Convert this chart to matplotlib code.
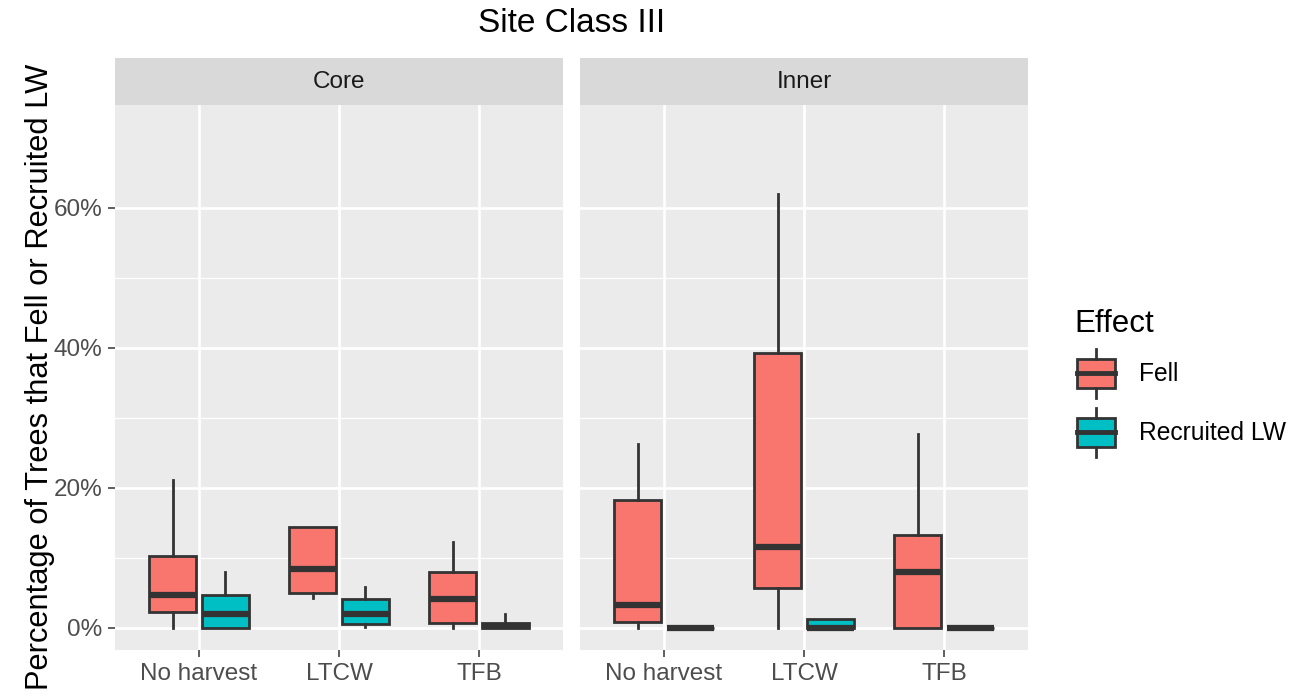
import numpy as np
import matplotlib
matplotlib.use('Agg')
import matplotlib.pyplot as plt
from matplotlib.legend_handler import HandlerBase
from matplotlib.patches import Rectangle, Patch
from matplotlib.lines import Line2D

plt.rcParams['font.family'] = ['Liberation Sans', 'DejaVu Sans']

# data (percent)
treatments = ['No harvest', 'LTCW', 'TFB']
facets = ['Core', 'Inner']
effects = ['Fell', 'Recruited LW']
colors = ['#F8766D', '#00BFC4']

# box stats per treatment: whisker low, q1, median, q3, whisker high
core_fell_lo = [0.0, 4.2, 0.0]
core_fell_q1 = [2.3, 4.9, 0.6]
core_fell_med = [4.6, 8.4, 4.1]
core_fell_q3 = [10.3, 14.4, 8.0]
core_fell_hi = [21.1, 14.4, 12.3]

core_rec_lo = [0.0, 0.1, 0.0]
core_rec_q1 = [0.0, 0.5, 0.0]
core_rec_med = [2.0, 2.0, 0.2]
core_rec_q3 = [4.6, 4.1, 0.7]
core_rec_hi = [8.0, 5.8, 2.0]

inner_fell_lo = [0.0, 0.0, 0.0]
inner_fell_q1 = [0.8, 5.6, 0.0]
inner_fell_med = [3.2, 11.5, 7.9]
inner_fell_q3 = [18.2, 39.2, 13.3]
inner_fell_hi = [26.3, 62.0, 27.7]

inner_rec_lo = [0.0, 0.0, 0.0]
inner_rec_q1 = [0.0, 0.0, 0.0]
inner_rec_med = [0.0, 0.0, 0.0]
inner_rec_q3 = [0.0, 1.3, 0.0]
inner_rec_hi = [0.0, 1.3, 0.0]

data = {
    'Core': [(core_fell_lo, core_fell_q1, core_fell_med, core_fell_q3, core_fell_hi),
             (core_rec_lo, core_rec_q1, core_rec_med, core_rec_q3, core_rec_hi)],
    'Inner': [(inner_fell_lo, inner_fell_q1, inner_fell_med, inner_fell_q3, inner_fell_hi),
              (inner_rec_lo, inner_rec_q1, inner_rec_med, inner_rec_q3, inner_rec_hi)],
}

W, H = 1309, 700
fig = plt.figure(figsize=(W / 100, H / 100), dpi=100)

edge = '#333333'
panel_x = [115, 580]
panel_w = 448
top, bot = 105, 650
strip_top = 58

for i, facet in enumerate(facets):
    ax = fig.add_axes([panel_x[i] / W, 1 - bot / H, panel_w / W, (bot - top) / H])
    ax.set_facecolor('#EBEBEB')
    for s in ax.spines.values():
        s.set_visible(False)
    ax.set_xlim(0.4, 3.6)
    ax.set_ylim(-3.2, 74.7)
    ax.set_yticks([0, 20, 40, 60])
    ax.set_yticks([10, 30, 50], minor=True)
    ax.set_xticks([1, 2, 3])
    ax.set_xticklabels(treatments)
    ax.grid(True, which='major', color='white', linewidth=1.9)
    ax.grid(True, which='minor', axis='y', color='white', linewidth=0.9)
    ax.set_axisbelow(True)
    ax.tick_params(axis='both', which='major', color=edge, length=5, width=1.1,
                   labelsize=17.5, labelcolor='#4D4D4D', pad=4)
    ax.tick_params(axis='both', which='minor', length=0)
    if i == 0:
        ax.set_yticklabels(['0%', '20%', '40%', '60%'])
    else:
        ax.tick_params(axis='y', which='major', length=0, labelleft=False)

    pos = np.arange(1, 4)
    offs = [-0.1875, 0.1875]
    for j, (lo, q1, med, q3, hi) in enumerate(data[facet]):
        stats = [dict(whislo=lo[k], q1=q1[k], med=med[k], q3=q3[k], whishi=hi[k], fliers=[])
                 for k in range(3)]
        ax.bxp(stats, positions=pos + offs[j], widths=0.3375, patch_artist=True,
               showcaps=False, showfliers=False, manage_ticks=False,
               boxprops=dict(facecolor=colors[j], edgecolor=edge, linewidth=2.0),
               whiskerprops=dict(color=edge, linewidth=2.0),
               medianprops=dict(color=edge, linewidth=4.5, solid_capstyle='butt'))

    # strip
    sax = fig.add_axes([panel_x[i] / W, 1 - top / H, panel_w / W, (top - strip_top) / H])
    sax.set_facecolor('#D9D9D9')
    sax.set_xticks([])
    sax.set_yticks([])
    for s in sax.spines.values():
        s.set_visible(False)
    sax.text(0.5, 0.5, facet, ha='center', va='center', fontsize=17.5, color='#1A1A1A',
             transform=sax.transAxes)

fig.text((115 + 1028) / 2 / W, 1 - 24 / H, 'Site Class III', ha='center', va='center',
         fontsize=24, color='black')
fig.text(40 / W, 1 - 377 / H, 'Percentage of Trees that Fell or Recruited LW', rotation=90,
         ha='center', va='center', fontsize=22.2, color='black')


class BoxHandler(HandlerBase):
    # ggplot-like boxplot key
    def create_artists(self, legend, orig_handle, xdescent, ydescent, width, height,
                       fontsize, trans):
        x0, y0 = -xdescent, -ydescent
        fc = orig_handle.get_facecolor()
        cx = x0 + width / 2
        rect = Rectangle((x0 + 0.04 * width, y0 + 0.2 * height), 0.92 * width, 0.6 * height,
                         facecolor=fc, edgecolor=edge, linewidth=2.0, transform=trans)
        w1 = Line2D([cx, cx], [y0, y0 + 0.2 * height], color=edge, lw=2.0, transform=trans)
        w2 = Line2D([cx, cx], [y0 + 0.8 * height, y0 + height], color=edge, lw=2.0,
                    transform=trans)
        m = Line2D([x0 + 0.04 * width, x0 + 0.96 * width], [y0 + 0.5 * height] * 2,
                   color=edge, lw=3.5, transform=trans)
        return [rect, w1, w2, m]


handles = [Patch(facecolor=c) for c in colors]
leg = fig.legend(handles, effects, handler_map={Patch: BoxHandler()},
                 loc='upper left', bbox_to_anchor=(1065 / W, 1 - 299 / H),
                 frameon=False, fontsize=17.7, title='Effect', title_fontsize=22.5,
                 handlelength=1.7, handleheight=2.7, labelspacing=0.4,
                 handletextpad=0.9, borderaxespad=0)
leg._legend_box.align = 'left'

fig.savefig('out.png', dpi=100)
